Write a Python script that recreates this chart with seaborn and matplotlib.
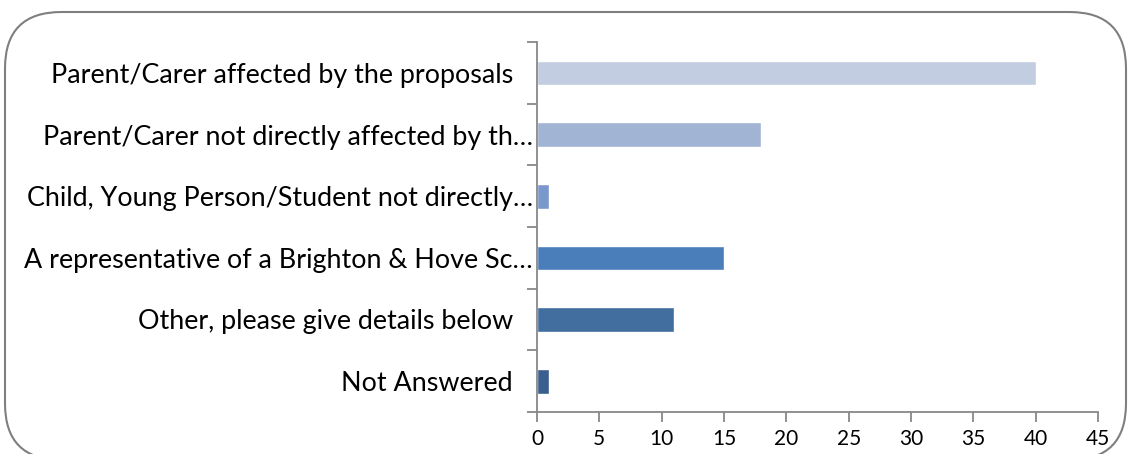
import matplotlib
matplotlib.use('Agg')
import matplotlib.pyplot as plt
from matplotlib.patches import FancyBboxPatch
from matplotlib.transforms import ScaledTranslation
import seaborn as sns
import pandas as pd
import numpy as np

categories = ['Parent/Carer affected by the proposals',
              'Parent/Carer not directly affected by th…',
              'Child, Young Person/Student not directly…',
              'A representative of a Brighton & Hove Sc…',
              'Other, please give details below',
              'Not Answered']
counts = [40, 18, 1, 15, 11, 1]
colors = ['#C3CDE1', '#A2B4D4', '#7A98CC', '#4A7EBB', '#416D9F', '#3A5F8F']

df = pd.DataFrame({'category': categories, 'count': counts})

sns.set_style('white')
plt.rcParams['font.family'] = ['Lato', 'DejaVu Sans']
plt.rcParams['text.color'] = 'black'
plt.rcParams['xtick.color'] = 'black'
plt.rcParams['ytick.color'] = 'black'

fig = plt.figure(figsize=(11.28, 4.54), dpi=100)
ax = fig.add_axes([537/1128, 42/454, 561/1128, 370/454])

sns.barplot(data=df, y='category', x='count', hue='category', palette=colors,
            legend=False, width=0.4, orient='h', ax=ax, saturation=1)

ax.set_xlim(0, 45)
ax.set_ylim(5.5, -0.5)
ax.set_xticks(range(0, 46, 5))
ax.set_xlabel('')
ax.set_ylabel('')

grey = '#888888'
for s in ['top', 'right']:
    ax.spines[s].set_visible(False)
for s in ['left', 'bottom']:
    ax.spines[s].set_color(grey)
    ax.spines[s].set_linewidth(1.3)

ax.set_yticks(np.arange(-0.5, 6, 1), minor=True)
ax.tick_params(axis='y', which='major', length=0, pad=3, labelsize=19.4, labelcolor='black')
ax.tick_params(axis='y', which='minor', length=7, color=grey, width=1.3, left=True)
ax.tick_params(axis='x', which='major', length=7, color=grey, width=1.3, bottom=True,
               labelsize=15, pad=5, labelcolor='black')

# labels that were not cut short sit a bit further from the axis
for lab in ax.get_yticklabels():
    if not lab.get_text().endswith('…'):
        lab.set_transform(lab.get_transform() + ScaledTranslation(-20/100, 0, fig.dpi_scale_trans))

border = FancyBboxPatch((5/1128, -6/454), 1121/1128, 448/454,
                        boxstyle='round,pad=0,rounding_size=0.05',
                        transform=fig.transFigure, fill=False,
                        edgecolor='#7F7F7F', linewidth=1.5,
                        mutation_aspect=1128/454)
fig.patches.append(border)

fig.savefig('out.png', dpi=100)
